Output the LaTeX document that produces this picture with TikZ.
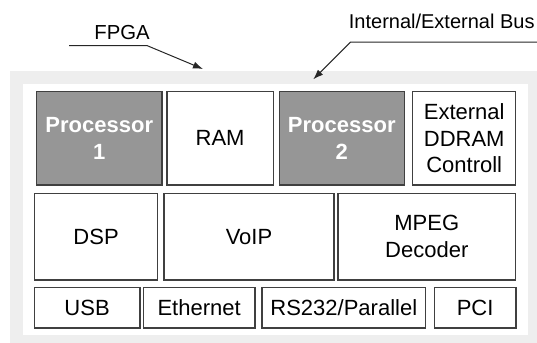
\documentclass[tikz,border=0pt]{standalone}
\usepackage{fontspec}
\setmainfont{Liberation Sans}
\usepackage{tikz}
\usetikzlibrary{arrows.meta, positioning}
\definecolor{boardgray}{RGB}{238, 238, 238}
\definecolor{cpugray}{RGB}{150, 150, 150}
\definecolor{edgegray}{RGB}{64, 64, 64}

\begin{document}
\begin{tikzpicture}[
    x=0.5pt, y=-0.5pt,
    block/.style={rectangle, draw=edgegray, line width=0.7pt, fill=white, align=center, inner sep=0pt, font=\fontsize{11}{13.3}\selectfont},
    cpu/.style={block, fill=cpugray, text=white, font=\fontsize{11}{13.3}\selectfont\bfseries},
    callout/.style={inner sep=0pt, font=\fontsize{10.15}{12}\selectfont},
    pointer/.style={draw=black!85, line width=0.5pt, -{Latex[length=5pt, width=3.6pt]}}
]
    \useasboundingbox (0,0) rectangle (537,343);

    % FPGA board
    \fill[boardgray] (10,71) rectangle (545,350);
    \fill[white] (22.7,84) rectangle (528.3,335);

    % first row
    \node[cpu, minimum width=62.6pt, minimum height=46.6pt] (proc1) at (99.3,138.3) {Processor\\1};
    \node[block, minimum width=53.1pt, minimum height=46.6pt] (ram) at (220.1,138.3) {RAM};
    \node[cpu, minimum width=62.5pt, minimum height=46.6pt] (proc2) at (341.8,138.3) {Processor\\2};
    \node[block, minimum width=51.5pt, minimum height=46.6pt] (ddram) at (464.2,138.3) {External\\DDRAM\\Controll};

    % second row
    \node[block, minimum width=61.6pt, minimum height=43.3pt] (dsp) at (96.1,236.6) {DSP};
    \node[block, minimum width=85pt, minimum height=43.3pt] (voip) at (249,236.6) {VoIP};
    \node[block, minimum width=88.8pt, minimum height=43.3pt] (mpeg) at (426.8,236.6) {MPEG\\Decoder};

    % third row
    \node[block, minimum width=52.8pt, minimum height=20.3pt] (usb) at (87.1,307.6) {USB};
    \node[block, minimum width=55.8pt, minimum height=20.3pt] (eth) at (199.1,307.6) {Ethernet};
    \node[block, minimum width=81.8pt, minimum height=20.3pt] (serial) at (343.8,307.6) {RS232/Parallel};
    \node[block, minimum width=40.8pt, minimum height=20.3pt] (pci) at (475.1,307.6) {PCI};

    % callouts
    \node[callout, anchor=base] (fpgalabel) at (122,39) {FPGA};
    \node[callout, anchor=base west, font=\fontsize{10}{12}\selectfont] (buslabel) at (348.5,28.3) {Internal/External Bus};
    \coordinate (fpgastart) at (69,45.7);
    \coordinate (fpgabend) at (147.3,45.7);
    \coordinate (fpgatip) at (203,69);
    \coordinate (busstart) at (545,42);
    \coordinate (busbend) at (350.7,42);
    \coordinate (bustip) at (313.3,79.3);
    \draw[pointer] (fpgastart) -- (fpgabend) -- (fpgatip);
    \draw[pointer] (busstart) -- (busbend) -- (bustip);

\end{tikzpicture}
\end{document}
